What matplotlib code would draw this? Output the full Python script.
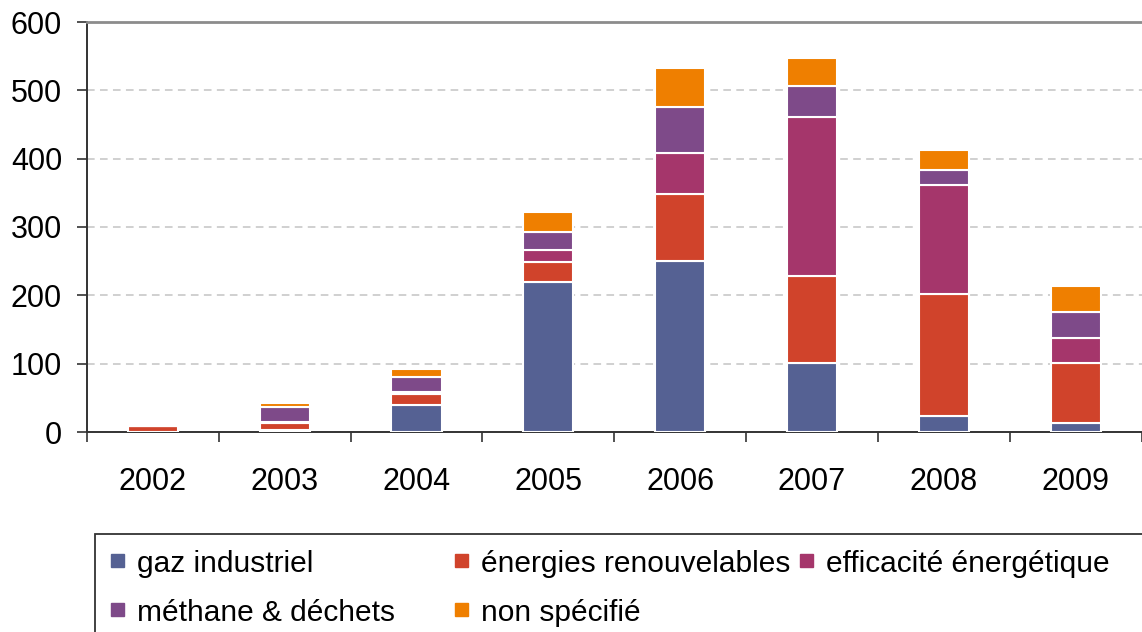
import matplotlib
matplotlib.use("Agg")
import matplotlib.pyplot as plt
from matplotlib.patches import Rectangle
import numpy as np

plt.rcParams['font.family'] = ['Liberation Sans', 'DejaVu Sans']

annees = ["2002", "2003", "2004", "2005", "2006", "2007", "2008", "2009"]
categories = ["gaz industriel", "énergies renouvelables", "efficacité énergétique",
              "méthane & déchets", "non spécifié"]
couleurs = ["#556193", "#d0432b", "#a5366b", "#7e4a89", "#ef7f00"]

gaz_industriel = [0, 3, 39, 220, 250, 101, 24, 13]
energies_renouvelables = [9, 10, 17, 29, 98, 127, 178, 88]
efficacite_energetique = [0, 2, 3, 18, 61, 233, 160, 37]
methane_dechets = [0, 21, 21, 26, 66, 46, 22, 37]
non_specifie = [0, 6, 12, 29, 57, 41, 29, 39]

series = [gaz_industriel, energies_renouvelables, efficacite_energetique,
          methane_dechets, non_specifie]

W, H = 1142, 632
fig = plt.figure(figsize=(W / 100, H / 100), dpi=100)
ax = fig.add_axes([87 / W, (H - 432) / H, 1054.5 / W, 410 / H])

x = np.arange(len(annees))
bas = np.zeros(len(annees))
for vals, coul, nom in zip(series, couleurs, categories):
    ax.bar(x, vals, width=0.38, bottom=bas, color=coul, edgecolor="white",
           linewidth=1.5, label=nom, zorder=3)
    bas += np.array(vals)

ax.set_xlim(-0.5, len(annees) - 0.5)
ax.set_ylim(0, 600)
ax.set_yticks(range(0, 601, 100))

# ticks entre les années, étiquettes au centre
ax.set_xticks(np.arange(-0.5, len(annees), 1.0))
ax.set_xticklabels([])
ax.set_xticks(x, minor=True)
ax.set_xticklabels(annees, minor=True)
ax.tick_params(axis="x", which="major", length=7, width=1.2, color="#333333", direction="out")
ax.tick_params(axis="x", which="minor", length=0, pad=25, labelsize=22)
ax.tick_params(axis="y", length=7, width=1.2, color="#333333", pad=11, labelsize=22)

ax.yaxis.grid(True, color="#c4c4c4", linestyle=(0, (5, 3.5)), linewidth=1.1, zorder=0)
ax.set_axisbelow(True)

for s in ["left", "bottom"]:
    ax.spines[s].set_color("#333333")
    ax.spines[s].set_linewidth(1.4)
ax.spines["top"].set_color("#8c8c8c")
ax.spines["top"].set_linewidth(2)
ax.spines["right"].set_visible(False)

# légende encadrée (colonnes à largeur fixe)
fig.patches.append(Rectangle((95 / W, -0.05), 1.1, (H - 534) / H + 0.05,
                             transform=fig.transFigure, fill=False,
                             edgecolor="#333333", linewidth=1.3))
col_x = [111, 455, 800]
lig_y = [572, 621]
for i, (nom, coul) in enumerate(zip(categories, couleurs)):
    cx = col_x[i % 3]
    by = lig_y[i // 3]
    fig.patches.append(Rectangle((cx / W, (H - by + 5) / H), 13 / W, 13 / H,
                                 transform=fig.transFigure, color=coul))
    fig.text((cx + 26) / W, (H - by) / H, nom, fontsize=21.5, va="baseline", ha="left")

fig.savefig("out.png", dpi=100)
